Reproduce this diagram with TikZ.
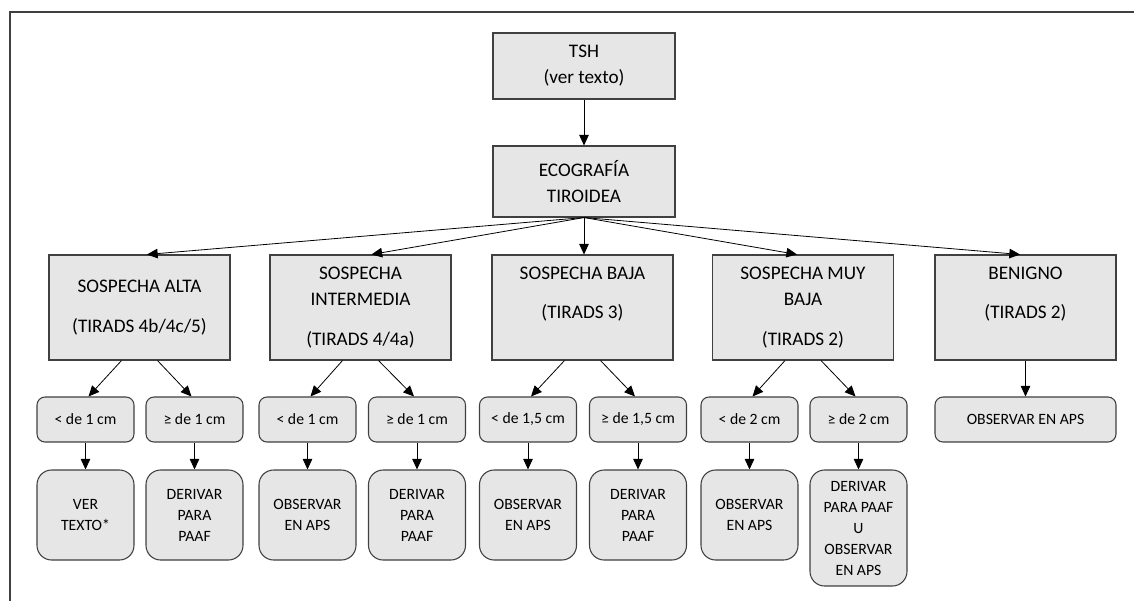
\documentclass[tikz,border=0pt]{standalone}
\usepackage{fontspec}
\setmainfont{Carlito}
\usetikzlibrary{arrows.meta,calc}
\definecolor{boxfill}{HTML}{E7E6E6}
\definecolor{boxline}{HTML}{404040}
\newcommand\bigtxt{\fontsize{14.4}{19.5}\selectfont}
\newcommand\smalltxt{\fontsize{11.8}{15.75}\selectfont}
\begin{document}
\begin{tikzpicture}[x=0.75pt,y=-0.75pt,
  box/.style={draw=boxline, fill=boxfill, line width=0.8pt, inner sep=0pt, align=center, font=\bigtxt},
  topbox/.style={box, minimum width=136.5pt},
  catbox/.style={box, minimum width=135.75pt, minimum height=78.75pt},
  sizebox/.style={box, rounded corners=6pt, minimum width=72.75pt, minimum height=33.75pt, font=\smalltxt},
  actbox/.style={box, rounded corners=11pt, minimum width=72.75pt, minimum height=67.5pt, font=\smalltxt},
  arr/.style={-{Triangle[length=8pt,width=7.2pt]}, line width=0.6pt, black},
  frame/.style={draw=boxline, line width=1pt}]
\useasboundingbox (0,0) rectangle (1134,601);
\coordinate (fc) at (10,12);
\coordinate (fr) at (1134,12);
\coordinate (fb) at (10,601);
\draw[frame] (fr) -- (fc) -- (fb);

\node[topbox, minimum height=49.5pt] (tsh) at (584,66) {TSH\\(ver texto)};
\node[topbox, minimum height=53.25pt] (eco) at (584,181.5) {ECOGRAFÍA\\TIROIDEA};

\node[catbox] (alta) at (139.5,307.5) {SOSPECHA ALTA\\[10.5pt](TIRADS 4b/4c/5)};
\node[catbox] (inter) at (360.5,307.5) {SOSPECHA\\INTERMEDIA\\[10.5pt](TIRADS 4/4a)};
\node[catbox] (baja) at (582.5,307.5) {SOSPECHA BAJA\\[10pt](TIRADS 3)\\[-3pt]\strut};
\node[catbox] (muy) at (803,307.5) {SOSPECHA MUY\\BAJA\\[10.5pt](TIRADS 2)};
\node[catbox] (ben) at (1025.5,307.5) {BENIGNO\\[10pt](TIRADS 2)\\[-3pt]\strut};

\node[sizebox] (a1) at (85.5,419.5) {< de 1 cm};
\node[sizebox] (a2) at (194.5,419.5) {≥ de 1 cm};
\node[sizebox] (i1) at (307.5,419.5) {< de 1 cm};
\node[sizebox] (i2) at (417,419.5) {≥ de 1 cm};
\node[sizebox] (b1) at (528,419.5) {< de 1,5 cm};
\node[sizebox] (b2) at (638,419.5) {≥ de 1,5 cm};
\node[sizebox] (m1) at (749.5,419.5) {< de 2 cm};
\node[sizebox] (m2) at (858.5,419.5) {≥ de 2 cm};
\node[sizebox, minimum width=135.75pt] (bo) at (1025.5,419.5) {OBSERVAR EN APS};

\node[actbox] (a1r) at (85.5,515) {VER\\TEXTO*};
\node[actbox] (a2r) at (194.5,515) {DERIVAR\\PARA\\PAAF};
\node[actbox] (i1r) at (307.5,515) {OBSERVAR\\EN APS};
\node[actbox] (i2r) at (417,515) {DERIVAR\\PARA\\PAAF};
\node[actbox] (b1r) at (528,515) {OBSERVAR\\EN APS};
\node[actbox] (b2r) at (638,515) {DERIVAR\\PARA\\PAAF};
\node[actbox] (m1r) at (749.5,515) {OBSERVAR\\EN APS};
\node[actbox, minimum height=87pt] (m2r) at (858.5,528) {DERIVAR\\PARA PAAF\\U\\OBSERVAR\\EN APS};

\draw[arr] (tsh) -- (eco);
\draw[arr] (eco.south) -- ($(alta.north)+(7.5,0)$);
\draw[arr] (eco.south) -- ($(inter.north)+(11,0)$);
\draw[arr] (eco.south) -- (eco.south |- baja.north);
\draw[arr] (eco.south) -- ($(muy.north)+(-6,0)$);
\draw[arr] (eco.south) -- ($(ben.north)+(-5.5,0)$);

\foreach \p/\l/\r in {alta/a1/a2, inter/i1/i2, baja/b1/b2, muy/m1/m2}{
  \draw[arr] ($(\p.south)+(-18,0)$) -- ($(\l.north)+(3,0)$);
  \draw[arr] ($(\p.south)+(18,0)$) -- ($(\r.north)+(-3,0)$);
}
\draw[arr] (ben) -- (bo);
\foreach \a in {a1,a2,i1,i2,b1,b2,m1,m2}{
  \draw[arr] (\a) -- (\a r);
}
\end{tikzpicture}
\end{document}
